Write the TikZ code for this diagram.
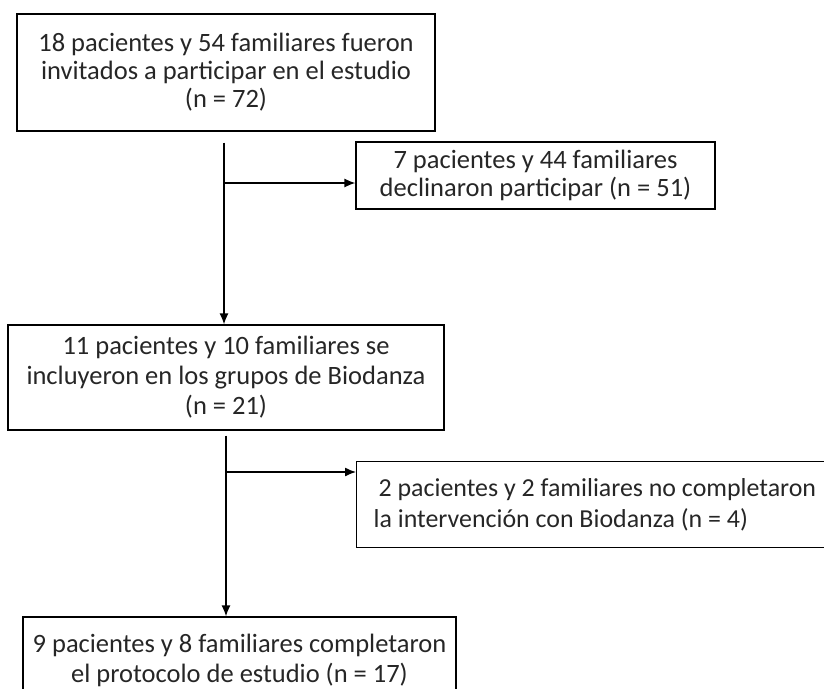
\documentclass[tikz,border=0pt]{standalone}
\usepackage{fontspec}
\setmainfont{Carlito}
\usetikzlibrary{arrows.meta}

\tikzset{
  caja/.style={draw, line width=1.3pt, align=center, inner sep=0pt,
    text=black!85, font=\fontsize{26.5}{28}\selectfont},
  flecha/.style={line width=1.3pt, -{Latex[length=11pt,width=9pt]}}
}

\begin{document}
\begin{tikzpicture}[x=1pt,y=-1pt]
  \useasboundingbox (0,0) rectangle (824,688);
  \clip (0,0) rectangle (824,688);

  % Boxes
  \node[caja, minimum width=418pt, minimum height=117pt] (invitados) at (226,72.5)
    {18 pacientes y 54 familiares fueron\\invitados a participar en el estudio\\(n = 72)};
  \node[caja, minimum width=359pt, minimum height=67pt] (declinaron) at (535.5,175.5)
    {7 pacientes y 44 familiares\\declinaron participar (n = 51)};
  \node[caja, minimum width=436pt, minimum height=105pt,
    font=\fontsize{26.5}{30}\selectfont] (incluidos) at (226,377.5)
    {11 pacientes y 10 familiares se\\incluyeron en los grupos de Biodanza\\(n = 21)};
  \node[caja, align=left, inner xsep=17pt, minimum height=86pt,
    anchor=north west, font=\fontsize{25.9}{31}\selectfont] (abandono) at (356,461)
    {\hspace*{5pt}2 pacientes y 2 familiares no completaron\\la intervención con Biodanza (n = 4)};
  \node[caja, minimum width=433pt, minimum height=86pt,
    font=\fontsize{26.5}{30}\selectfont] (completaron) at (239.5,660)
    {9 pacientes y 8 familiares completaron\\el protocolo de estudio (n = 17)};

  % Connectors
  \coordinate (rama1) at (224,183);
  \coordinate (rama2) at (226,472);
  \draw[flecha, shorten <=11pt] (invitados.south -| rama1) -- (rama1 |- incluidos.north);
  \draw[flecha] (rama1) -- (rama1 -| declinaron.west);
  \draw[flecha, shorten <=5pt] (incluidos.south -| rama2) -- (rama2 |- completaron.north);
  \draw[flecha] (rama2) -- (rama2 -| abandono.west);
\end{tikzpicture}
\end{document}
